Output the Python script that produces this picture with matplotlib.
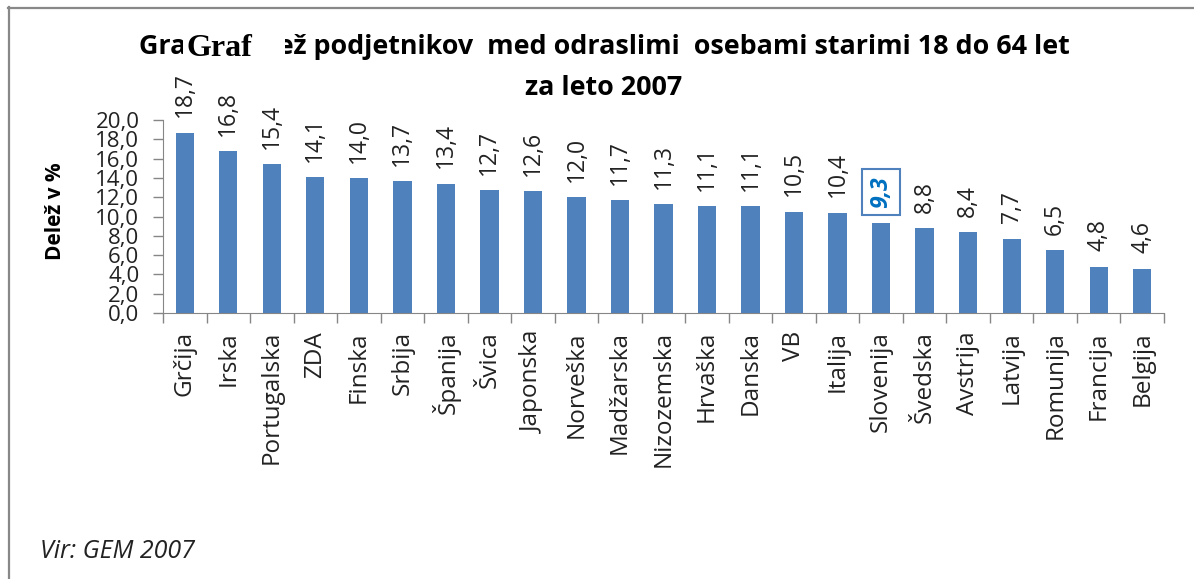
import matplotlib as mpl
import matplotlib.pyplot as plt
from matplotlib.lines import Line2D
from matplotlib.patches import Rectangle
mpl.use('agg')

countries = ['Grčija', 'Irska', 'Portugalska', 'ZDA', 'Finska', 'Srbija', 'Španija',
             'Švica', 'Japonska', 'Norveška', 'Madžarska', 'Nizozemska', 'Hrvaška',
             'Danska', 'VB', 'Italija', 'Slovenija', 'Švedska', 'Avstrija', 'Latvija',
             'Romunija', 'Francija', 'Belgija']
values = [18.7, 16.8, 15.4, 14.1, 14.0, 13.7, 13.4, 12.7, 12.6, 12.0, 11.7, 11.3,
          11.1, 11.1, 10.5, 10.4, 9.3, 8.8, 8.4, 7.7, 6.5, 4.8, 4.6]
highlight = 'Slovenija'
yTicks = [0, 2, 4, 6, 8, 10, 12, 14, 16, 18, 20]

titleLine1 = 'Graf 1: Delež podjetnikov  med odraslimi  osebami starimi 18 do 64 let'
titleLine2 = 'za leto 2007'
source = 'Vir: GEM 2007'

def comma(v):
    return f'{v:.1f}'.replace('.', ',')

W, H = 1194, 579
dpi = 100
mpl.rcParams['font.family'] = ['Open Sans', 'DejaVu Sans']
fig = plt.figure(figsize=(W / dpi, H / dpi), dpi=dpi)

gray = '#868686'
barColor = '#4F81BD'
textColor = '#222222'

ax = fig.add_axes([163 / W, 1 - 313 / H, (1164 - 163) / W, (313 - 120) / H])
xs = list(range(len(countries)))
ax.bar(xs, values, width=0.42, color=barColor, zorder=2)
ax.set_xlim(-0.5, len(countries) - 0.5)
ax.set_ylim(0, 20)
ax.set_yticks(yTicks)
ax.set_yticklabels([comma(v) for v in yTicks])
ax.set_xticks(xs)
ax.set_xticklabels(countries, rotation=90, ha='center', va='top')
ax.set_xticks([i - 0.5 for i in range(len(countries) + 1)], minor=True)
ax.tick_params(axis='x', which='major', length=0, pad=13, labelsize=17.5, labelcolor=textColor)
ax.tick_params(axis='x', which='minor', length=7, color=gray, width=1)
ax.tick_params(axis='y', length=7, color=gray, width=1, labelsize=16, pad=10, labelcolor=textColor)
for side in ['top', 'right']:
    ax.spines[side].set_visible(False)
for side in ['left', 'bottom']:
    ax.spines[side].set_color(gray)
ax.set_ylabel('Delež v %', fontsize=15, weight='bold')
ax.yaxis.set_label_coords(-0.097, 0.53)

for i, (name, v) in enumerate(zip(countries, values)):
    if name == highlight:
        ax.annotate(comma(v), (i, v), xytext=(0, 11), textcoords='offset points',
                    rotation=90, ha='center', va='bottom', fontsize=16.5,
                    color='#0070C0', weight='bold', style='italic',
                    bbox=dict(boxstyle='square,pad=0.3', fc='white', ec=barColor, lw=1.5))
    else:
        ax.annotate(comma(v), (i, v), xytext=(0, 11), textcoords='offset points',
                    rotation=90, ha='center', va='bottom', fontsize=16.5, color=textColor)

fig.text(604 / W, 1 - 47 / H, titleLine1, ha='center', va='center', weight='bold', fontsize=19.4)
fig.text(604 / W, 1 - 88 / H, titleLine2, ha='center', va='center', weight='bold', fontsize=19.4)
# the covering box with the serif "Graf" seen in the original
fig.patches.append(Rectangle((183 / W, 1 - 68 / H), 102 / W, 40 / H, transform=fig.transFigure,
                             fc='white', ec='none', zorder=5))
fig.text(187 / W, 1 - 49 / H, 'Graf', ha='left', va='center', weight='bold',
         family='Liberation Serif', fontsize=23, zorder=6)

fig.text(40 / W, 1 - 552 / H, source, ha='left', va='center', style='italic',
         fontsize=18, color=textColor)

fig.add_artist(Line2D([8 / W, 1], [1 - 8 / H, 1 - 8 / H], transform=fig.transFigure,
                      color='#888888', lw=1.6))
fig.add_artist(Line2D([9 / W, 9 / W], [0, 1 - 7 / H], transform=fig.transFigure,
                      color='#888888', lw=1.6))

fig.savefig('out.png', dpi=dpi)
